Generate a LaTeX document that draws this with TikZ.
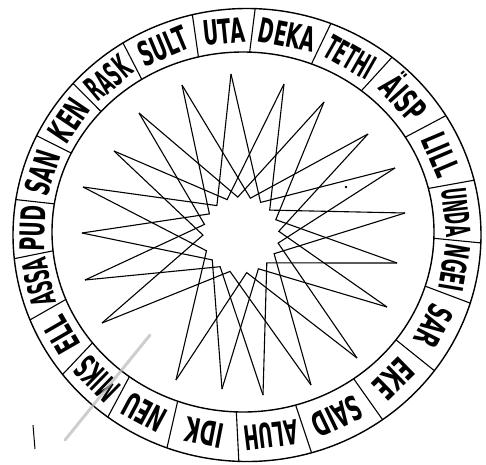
\documentclass[tikz,border=0pt]{standalone}
\usepackage{fontspec}
\usepackage{graphicx}
\newfontfamily\ringfont{DejaVu Sans}[FakeStretch=0.56]
\usetikzlibrary{calc}
\newsavebox\wordbox
\newcommand\fitword[2]{\sbox\wordbox{#2}%
  \ifdim\wd\wordbox>#1\resizebox{#1}{\height}{#2}\else\usebox\wordbox\fi}

\begin{document}
\begin{tikzpicture}[x=1pt, y=1pt,
  ring/.style={line width=1.4pt},
  divider/.style={line width=1.1pt},
  starline/.style={line width=1.1pt, line join=miter},
  word/.style={font=\ringfont\bfseries\fontsize{34}{34}\selectfont,
    inner sep=0pt, text height=24.8pt, text depth=0pt},
]
\useasboundingbox (-244,-231) rectangle (242,233);

% the two rims of the band
\draw[ring] (3,-2) ellipse (234 and 226.5);
\draw[ring] (-1,1) ellipse (191 and 180);

% dividers between the words
\foreach \a in {171,154,138,122,103.5,88,69,51.7,31.8,14,-2,-17.5,
                -36.8,-54.6,-74,-92,-110,-126.5,-142,-158,-174}
  \draw[divider] ($(-1,1)+(\a:191 and 180)$) -- ($(3,-2)+(\a:234 and 226.5)$);

% words, read clockwise, tops outward (angle/span/word)
\foreach \a/\s/\w [count=\i] in {178.5/15/PUD, 162.5/17/SAN, 146/16/KEN,
    130/16/RASK, 112.75/18.5/SULT, 95.75/15.5/UTA, 78.5/19/DEKA,
    60.35/17.3/TETHI, 41.75/19.9/ÄISP, 22.9/17.8/LILL, 6/16/UNDA,
    -9.75/15.5/NGEI, -27.15/19.3/SAR, -45.7/17.8/EKE, -64.3/19.4/SAID,
    -83/18/ALUH, -101/18/IDK, -118.25/16.5/NEU, -134.25/15.5/MIKS,
    -150/16/ELL, -166/16/ASSA}{
  \pgfmathsetmacro\segw{\s*3.66*0.82}
  \node[word, rotate=\a-90] (w\i) at ($(1,-0.5)+(\a:212.5 and 203)$)
    {\fitword{\segw pt}{\w}};
}

% star: tips and inner corners
\foreach \x/\y [count=\i] in {-13/159, 40/149, 80/131, 124/99, 151/65,
    161/20, 153/-30, 143/-74, 113/-125, 67/-152, 19/-162, -22/-156,
    -68/-147, -142/-90, -159/-47, -162/0, -161/46, -130/82, -105/120,
    -62/148}
  \coordinate (t\i) at (\x,\y);
\foreach \x/\y [count=\i] in {16.6/30.6, 25.7/22.9, 31.8/13.3, 34.8/1.7,
    34.1/-10.1, 30.1/-20.7, 22.8/-29.9, 14.4/-35.8, 2.7/-39.6,
    -14/-38.4, -23.9/-33.7, -31.7/-26.9, -37.5/-17.8, -41/-2.1,
    -39.5/8.6, -34.6/19.1, -27.1/27.4, -16.9/33.4, -6.2/35.9, 6.4/34.8}
  \coordinate (m\i) at (\x,\y);
\foreach \i in {1,...,20}{
  \pgfmathtruncatemacro\j{mod(\i+3,20)+1}
  \draw[starline] (t\i) -- (m\i) -- (t\j);
}

% marks on the sheet
\coordinate (p1) at (-179,-207);
\coordinate (p2) at (-94,-102);
\draw[gray!55, line width=3pt, opacity=0.7, line cap=round] (p1) -- (p2);
\coordinate (k1) at (-211,-192);
\coordinate (k2) at (-209,-216);
\draw[line width=1pt] (k1) -- (k2);
\fill (102,46) circle (1.3);
\end{tikzpicture}
\end{document}
